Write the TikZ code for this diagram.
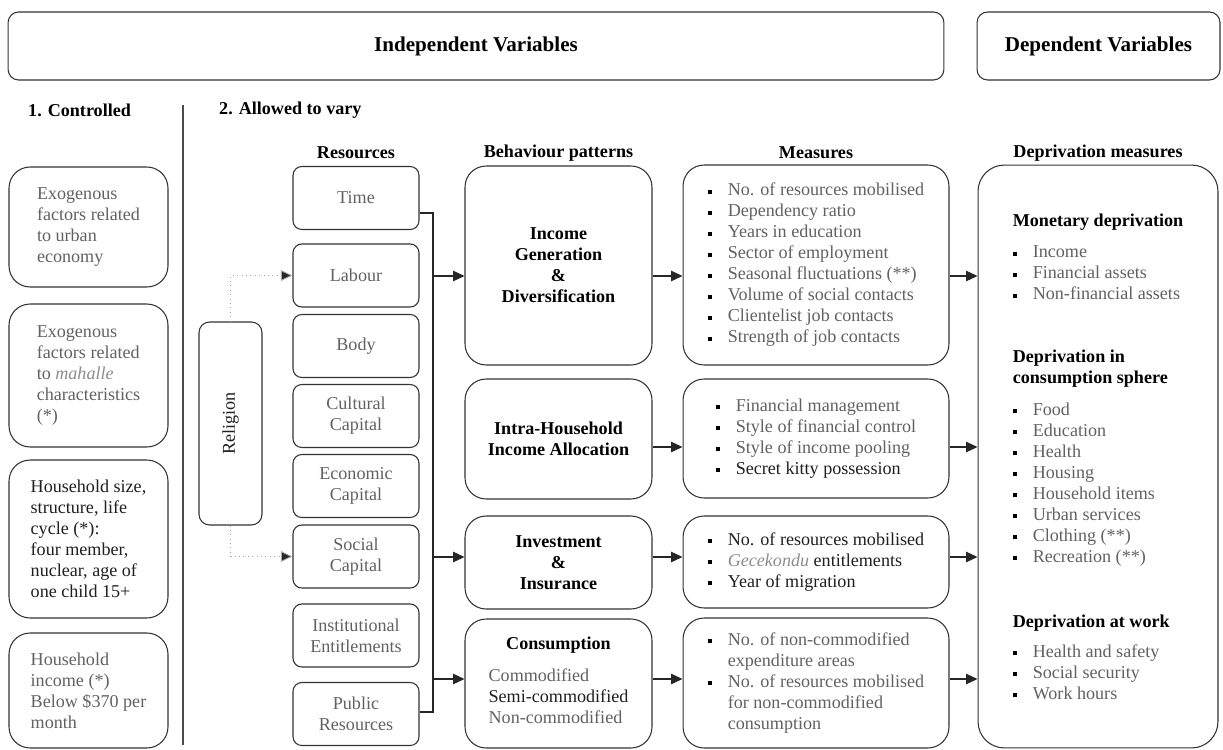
\documentclass[tikz,border=0pt]{standalone}
\usepackage{fontspec}
\setmainfont{Liberation Serif}
\usepackage{graphicx}
\usetikzlibrary{arrows.meta}
\colorlet{txtgray}{black!62}
\colorlet{txtdark}{black!88}
\newcommand{\bodysize}{\fontsize{10.3}{11.95}\selectfont}
\newcommand{\bul}{\makebox[0.4cm][l]{\textcolor{black}{\rule[0.25ex]{2.3pt}{2.3pt}}}}
\newcommand{\hd}[1]{\textcolor{black}{\textbf{#1}}}

\begin{document}
\begin{tikzpicture}[x=0.02cm, y=-0.02cm, font=\bodysize,
  box/.style={draw=black!80, line width=0.6pt, rounded corners=8pt, align=center,
    text=txtgray, inner sep=0pt},
  topbox/.style={box, rounded corners=6pt, text=black, font=\fontsize{12}{14}\selectfont\bfseries,
    minimum height=1.36cm},
  ctlbox/.style={box, rounded corners=12pt, align=left, minimum width=3.18cm},
  resbox/.style={box, rounded corners=5pt, minimum width=2.52cm, minimum height=1.26cm},
  behbox/.style={box, rounded corners=12pt, text=black, font=\bodysize\bfseries, minimum width=3.74cm},
  measbox/.style={box, rounded corners=12pt, align=left, minimum width=5.32cm},
  colhead/.style={font=\bodysize\bfseries, text=black},
  line/.style={draw=black!85, line width=0.6pt},
  arr/.style={line, -{Triangle[length=2.3mm, width=2.1mm]}},
  dotarr/.style={draw=black!35, dotted, line width=0.5pt, -{Triangle[length=2.3mm, width=2.1mm, fill=black!85]}}]
\useasboundingbox (0,0) rectangle (1223,750);
% header boxes
\node[topbox, minimum width=18.72cm] (indep) at (476,46) {Independent Variables};
\node[topbox, minimum width=4.86cm] (dept) at (1098.5,46) {Dependent Variables};
\node[colhead, anchor=west] (ctrl) at (22,110) {1. Controlled};
\node[colhead, anchor=west] (vary) at (213,110) {2. Allowed to vary};
\draw[line, black!70] (183,105) -- (183,745);
% column headers
\node[colhead] (hres) at (356,153) {Resources};
\node[colhead] (hbeh) at (558.5,153) {Behaviour patterns};
\node[colhead] (hmeas) at (816,153) {Measures};
\node[colhead] (hdep) at (1098,153) {Deprivation measures};
% controlled variables
\node[ctlbox, minimum height=2.4cm] (ctl1) at (88.5,227) {Exogenous\\factors related\\to urban\\economy};
\node[ctlbox, minimum height=2.86cm] (ctl2) at (88.5,375.5) {Exogenous\\factors related\\to \textit{\color{black!45}mahalle}\\characteristics\\(*)};
\node[ctlbox, minimum height=3.16cm, text=txtdark] (ctl3) at (88.5,539) {Household size,\\structure, life\\cycle (*):\\four member,\\nuclear, age of\\one child 15+};
\node[ctlbox, minimum height=2.3cm] (ctl4) at (88.5,690.5) {Household\\income (*)\\Below \$370 per\\month};
% religion
\node[box, rounded corners=6pt, text=txtdark, minimum width=1.26cm, minimum height=4.06cm] (rel) at (230.5,423.5) {\rotatebox{90}{Religion}};
% resources
\node[resbox] (time) at (356,198) {Time};
\node[resbox] (labour) at (356,275.5) {Labour};
\node[resbox] (body) at (356,346) {Body};
\node[resbox] (cult) at (356,416) {Cultural\\Capital};
\node[resbox] (econ) at (356,486) {Economic\\Capital};
\node[resbox] (soc) at (356,556.5) {Social\\Capital};
\node[resbox] (inst) at (356,635.5) {Institutional\\Entitlements};
\node[resbox] (pub) at (356,714) {Public\\Resources};
% behaviour patterns
\node[behbox, minimum height=3.98cm] (igd) at (558.5,265.5) {Income\\Generation\\\&\\Diversification};
\node[behbox, minimum height=2.4cm] (iha) at (558.5,439) {Intra-Household\\Income Allocation};
\node[behbox, minimum height=1.86cm] (inv) at (558.5,562.5) {Investment\\\&\\Insurance};
\node[box, rounded corners=12pt, text=black, minimum width=3.74cm, minimum height=2.58cm] (con) at (558.5,683.5)
  {\textbf{Consumption}\\[6.8pt]\color{txtgray}\begin{tabular}{@{}l@{}}Commodified\\{\color{txtdark}Semi-commodified}\\Non-commodified\end{tabular}};
% measures
\node[measbox, minimum height=4cm] (m1) at (816,265) {\bul No. of resources mobilised\\\bul Dependency ratio\\\bul Years in education\\\bul Sector of employment\\\bul Seasonal fluctuations (**)\\\bul Volume of social contacts\\\bul Clientelist job contacts\\\bul Strength of job contacts};
\node[measbox, minimum height=2.38cm] (m2) at (816,438.5) {\bul Financial management\\\bul Style of financial control\\\bul Style of income pooling\\\bul {\color{txtdark}Secret kitty possession}};
\node[measbox, minimum height=1.84cm, text=txtdark] (m3) at (816,562) {\bul No. of resources mobilised\\\bul \textit{\color{black!45}Gecekondu} entitlements\\\bul Year of migration};
\node[measbox, minimum height=2.6cm] (m4) at (816,683) {\bul No. of non-commodified\\\hspace*{0.4cm}expenditure areas\\\bul No. of resources mobilised\\\hspace*{0.4cm}for non-commodified\\\hspace*{0.4cm}consumption};
% deprivation measures
\node[box, rounded corners=15pt, align=left, minimum width=4.8cm, minimum height=11.66cm] (dep) at (1098,456.5)
  {\hd{Monetary deprivation}\\[6pt]
   \bul Income\\\bul Financial assets\\\bul Non-financial assets\\[24pt]
   \hd{Deprivation in}\\\hd{consumption sphere}\\[6pt]
   \bul Food\\\bul Education\\\bul Health\\\bul Housing\\\bul Household items\\\bul Urban services\\\bul Clothing (**)\\\bul Recreation (**)\\[25pt]
   \hd{Deprivation at work}\\[5pt]
   \bul Health and safety\\\bul Social security\\\bul Work hours};
% connectors
\coordinate (bustop) at (433,213);
\coordinate (busbot) at (433,712);
\coordinate (ra) at (0,276);
\coordinate (rb) at (0,447);
\coordinate (rc) at (0,557);
\coordinate (rd) at (0,679);
\draw[dotarr] (rel.north) |- (labour.west);
\draw[dotarr] (rel.south) |- (soc.west);
\draw[line] (time.east |- bustop) -- (bustop) -- (busbot) -- (pub.east |- busbot);
\draw[arr] (bustop |- ra) -- (igd.west |- ra);
\draw[arr] (bustop |- rc) -- (inv.west |- rc);
\draw[arr] (bustop |- rd) -- (con.west |- rd);
\draw[arr] (igd.east |- ra) -- (m1.west |- ra);
\draw[arr] (iha.east |- rb) -- (m2.west |- rb);
\draw[arr] (inv.east |- rc) -- (m3.west |- rc);
\draw[arr] (con.east |- rd) -- (m4.west |- rd);
\draw[arr] (m1.east |- ra) -- (dep.west |- ra);
\draw[arr] (m2.east |- rb) -- (dep.west |- rb);
\draw[arr] (m3.east |- rc) -- (dep.west |- rc);
\draw[arr] (m4.east |- rd) -- (dep.west |- rd);
\end{tikzpicture}
\end{document}
